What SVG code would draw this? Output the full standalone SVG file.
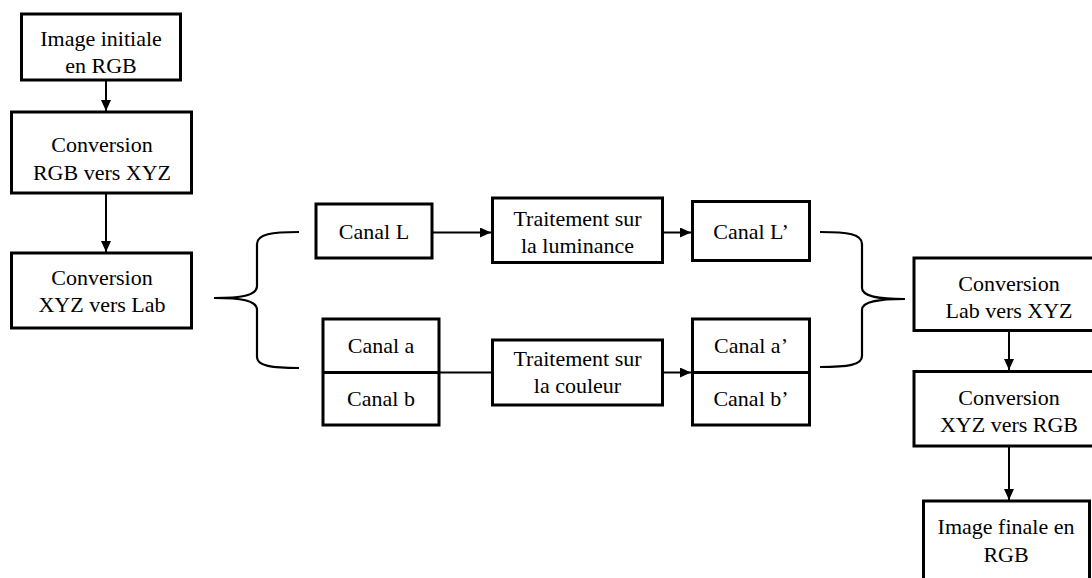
<svg xmlns="http://www.w3.org/2000/svg" width="1092" height="578" viewBox="0 0 1092 578">
<style>
.box{fill:#fff;stroke:#000;stroke-width:3}
.t{font-family:"Liberation Serif","Times New Roman",serif;font-size:22px;fill:#000;text-anchor:middle}
.c{fill:none;stroke:#000;stroke-width:2}
.br{fill:none;stroke:#000;stroke-width:2.2}
</style>
<defs>
<marker id="ah" markerUnits="userSpaceOnUse" markerWidth="12" markerHeight="10" refX="11" refY="5" orient="auto">
<path d="M0,0 L11,5 L0,10 Z" fill="#000"/>
</marker>
</defs>
<g id="connectors">
<line class="c" x1="106" y1="80" x2="106" y2="111" marker-end="url(#ah)"/>
<line class="c" x1="106" y1="193" x2="106" y2="252" marker-end="url(#ah)"/>
<line class="c" x1="432" y1="232.5" x2="491" y2="232.5" marker-end="url(#ah)"/>
<line class="c" x1="663" y1="232.5" x2="691" y2="232.5" marker-end="url(#ah)"/>
<line class="c" x1="439" y1="372.5" x2="493" y2="372.5"/>
<line class="c" x1="663" y1="372.5" x2="691" y2="372.5" marker-end="url(#ah)"/>
<line class="c" x1="1009" y1="331" x2="1009" y2="370" marker-end="url(#ah)"/>
<line class="c" x1="1009" y1="446" x2="1009" y2="500" marker-end="url(#ah)"/>
<path class="br" d="M299,232 C272,232 257,234 257,244 L257,286 C257,296 240,298 214,298 C240,298 257,300 257,310 L257,357 C257,366 272,368 299,368"/>
<path class="br" d="M820,232 C848,232 862,234 862,244 L862,288 C862,297 880,299 905,299 C880,299 862,301 862,310 L862,356 C862,365 848,367 820,367"/>
</g>
<g id="n1"><rect class="box" x="21.5" y="14" width="159" height="66"/>
<text class="t" x="101" y="46">Image initiale</text><text class="t" x="101" y="73">en RGB</text></g>
<g id="n2"><rect class="box" x="11.5" y="112" width="180" height="81"/>
<text class="t" x="102" y="152">Conversion</text><text class="t" x="102" y="180">RGB vers XYZ</text></g>
<g id="n3"><rect class="box" x="11.5" y="253" width="180" height="75"/>
<text class="t" x="102" y="285">Conversion</text><text class="t" x="102" y="312">XYZ vers Lab</text></g>
<g id="n4"><rect class="box" x="316" y="204" width="116" height="54"/>
<text class="t" x="374" y="239">Canal L</text></g>
<g id="n5"><rect class="box" x="323" y="319" width="116" height="106"/>
<line x1="323" y1="372.5" x2="439" y2="372.5" stroke="#000" stroke-width="3"/>
<text class="t" x="381" y="353">Canal a</text><text class="t" x="381" y="406">Canal b</text></g>
<g id="n6"><rect class="box" x="492.5" y="198" width="170" height="64.5"/>
<text class="t" x="577.5" y="226">Traitement sur</text><text class="t" x="577.5" y="253">la luminance</text></g>
<g id="n7"><rect class="box" x="492.5" y="340" width="170" height="65"/>
<text class="t" x="577.5" y="366">Traitement sur</text><text class="t" x="577.5" y="393">la couleur</text></g>
<g id="n8"><rect class="box" x="692.5" y="201.5" width="117" height="59"/>
<text class="t" x="751" y="239">Canal L’</text></g>
<g id="n9"><rect class="box" x="692.5" y="319" width="117" height="106"/>
<line x1="692.5" y1="372.5" x2="809.5" y2="372.5" stroke="#000" stroke-width="3"/>
<text class="t" x="751" y="353">Canal a’</text><text class="t" x="751" y="406">Canal b’</text></g>
<g id="n10"><rect class="box" x="914" y="258" width="190" height="72.5"/>
<text class="t" x="1009" y="291">Conversion</text><text class="t" x="1009" y="318">Lab vers XYZ</text></g>
<g id="n11"><rect class="box" x="914" y="371.5" width="190" height="74.5"/>
<text class="t" x="1009" y="405">Conversion</text><text class="t" x="1009" y="432">XYZ vers RGB</text></g>
<g id="n12"><rect class="box" x="923.5" y="501" width="166" height="90"/>
<text class="t" x="1006" y="534">Image finale en</text><text class="t" x="1006" y="562">RGB</text></g>
</svg>
